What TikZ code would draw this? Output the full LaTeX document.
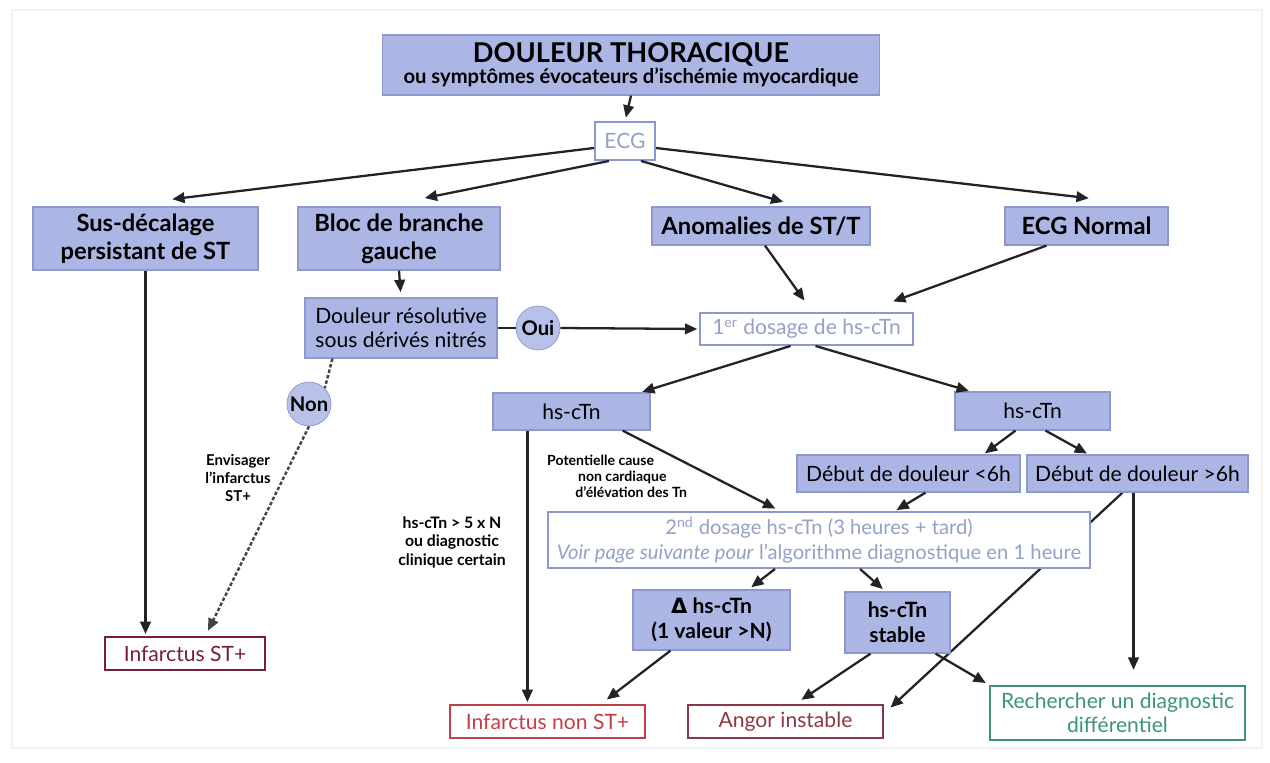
\documentclass[tikz,border=0pt]{standalone}
\usepackage{fontspec}
\setmainfont{Lato}
\newfontfamily\symfont{DejaVu Sans}
\usetikzlibrary{arrows.meta,backgrounds}

\definecolor{boxfill}{RGB}{172,182,228}
\definecolor{boxline}{RGB}{140,152,206}
\definecolor{greyblue}{RGB}{150,160,200}
\definecolor{wine}{RGB}{120,30,55}
\definecolor{redbox}{RGB}{196,62,72}
\definecolor{angorcol}{RGB}{140,55,70}
\definecolor{vert}{RGB}{60,150,115}
\definecolor{edge}{RGB}{35,35,35}

\begin{document}
\begin{tikzpicture}[x=0.02cm,y=-0.02cm,
  bluebox/.style={draw=boxline,fill=boxfill,line width=0.7pt,align=center,inner sep=1pt},
  whitebox/.style={draw=boxline,fill=white,line width=1.1pt,text=greyblue,align=center,inner sep=1pt},
  endbox/.style={fill=white,line width=1.4pt,align=center,inner sep=1pt,font=\fontsize{12}{14}\selectfont},
  answer/.style={circle,draw=boxline,fill=boxfill!85!white,minimum size=0.88cm,inner sep=0pt,font=\fontsize{11.5}{13}\selectfont\bfseries},
  head/.style={font=\fontsize{13.5}{16}\selectfont\bfseries},
  plain/.style={font=\fontsize{12}{14}\selectfont},
  remark/.style={align=center,font=\fontsize{8.5}{10}\selectfont\bfseries},
  arr/.style={-{Triangle[length=7pt,width=6pt]},line width=1.3pt,draw=edge,shorten >=1pt},
  dots/.style={line width=1.4pt,draw=edge!85,dash pattern=on 2pt off 1.2pt}]
\useasboundingbox (0,0) rectangle (1270,763);
\draw[black!5,line width=1pt] (12,10) rectangle (1262,748);

\node[bluebox,font=\bfseries,minimum width=9.94cm,minimum height=1.2cm] (top) at (631,65)
  {{\fontsize{15.5}{17}\selectfont DOULEUR THORACIQUE}\\{\fontsize{11.5}{13}\selectfont ou symptômes évocateurs d’ischémie myocardique}};
\node[whitebox,font=\fontsize{12}{14}\selectfont,minimum width=1.2cm,minimum height=0.76cm] (ecg) at (625,141) {ECG};

\node[bluebox,head,minimum width=4.5cm,minimum height=1.26cm] (sus) at (145.5,238.5) {Sus-décalage\\persistant de ST};
\node[bluebox,head,minimum width=4.04cm,minimum height=1.26cm] (bloc) at (399,238.5) {Bloc de branche\\gauche};
\node[bluebox,head,minimum width=4.36cm,minimum height=0.76cm] (anom) at (761,226) {Anomalies de ST/T};
\node[bluebox,head,minimum width=3.26cm,minimum height=0.76cm] (norm) at (1086.5,226) {ECG Normal};

\node[bluebox,plain,minimum width=3.84cm,minimum height=1.2cm] (doul) at (401,328) {Douleur résolutive\\sous dérivés nitrés};
\node[answer] (oui) at (538,328) {Oui};
\node[whitebox,plain,minimum width=4.26cm,minimum height=0.64cm] (dos1) at (806.5,329) {1\textsuperscript{er} dosage de hs-cTn};
\node[answer] (non) at (309,404) {Non};

\node[bluebox,plain,minimum width=3.14cm,minimum height=0.74cm] (hsl) at (571.5,411.5) {hs-cTn};
\node[bluebox,plain,minimum width=3.1cm,minimum height=0.76cm] (hsr) at (1032.5,411) {hs-cTn};
\node[bluebox,plain,minimum width=4.46cm,minimum height=0.74cm] (early) at (908.5,473.5) {Début de douleur <6h};
\node[bluebox,plain,minimum width=4.42cm,minimum height=0.74cm] (late) at (1137.5,473.5) {Début de douleur >6h};
\node[whitebox,font=\fontsize{11.5}{14}\selectfont,minimum width=10.84cm,minimum height=1.12cm] (dos2) at (819,540)
  {2\textsuperscript{nd} dosage hs-cTn (3 heures + tard)\\\textit{Voir page suivante pour} l’algorithme diagnostique en 1 heure};
\node[bluebox,font=\fontsize{12}{14.5}\selectfont\bfseries,minimum width=3.14cm,minimum height=1.2cm] (delta) at (711.5,620) {{\symfont Δ} hs-cTn\\(1 valeur >N)};
\node[bluebox,font=\fontsize{12}{14.5}\selectfont\bfseries,minimum width=2.1cm,minimum height=1.22cm] (stab) at (897.5,622.5) {hs-cTn\\stable};

\node[endbox,draw=wine,text=wine,minimum width=3.2cm,minimum height=0.66cm] (stp) at (185,653.5) {Infarctus ST+};
\node[endbox,draw=redbox,text=redbox,minimum width=3.9cm,minimum height=0.66cm] (nstp) at (547.5,721.5) {Infarctus non ST+};
\node[endbox,draw=angorcol,text=angorcol,minimum width=3.9cm,minimum height=0.66cm] (angor) at (785.5,721.5) {Angor instable};
\node[endbox,draw=vert,text=vert,minimum width=5.1cm,minimum height=1.08cm] (diff) at (1117.5,713) {Rechercher un diagnostic\\différentiel};

\node[remark] (envis) at (238,478) {Envisager\\l’infarctus\\ST+};
\node[remark,font=\fontsize{9}{10.5}\selectfont\bfseries] (crit) at (452,542) {hs-cTn > 5 x N\\ou diagnostic\\clinique certain};
\node[remark,font=\fontsize{8}{9}\selectfont\bfseries,align=left,anchor=north west] (cause) at (541,449) {Potentielle cause\\\hspace*{2.2em}non cardiaque\\\hspace*{2em}d’élévation des Tn};

\draw[arr,shorten >=2pt] (top.south) -- (ecg.north);
\draw[arr] ([yshift=-0.14cm]ecg.west) -- ([xshift=0.5cm,yshift=0.14cm]sus.north);
\draw[arr] ([xshift=0.3cm]ecg.south west) -- ([xshift=0.48cm,yshift=0.16cm]bloc.north);
\draw[arr] ([xshift=-0.3cm]ecg.south east) -- ([xshift=0.48cm,yshift=0.08cm]anom.north);
\draw[arr] ([yshift=-0.14cm]ecg.east) -- ([xshift=0.08cm,yshift=0.16cm]norm.north);

\draw[arr,shorten >=3pt] (bloc.south) -- (doul.north);
\draw[line width=1.3pt,draw=edge] (doul.east) -- (oui.west);
\draw[arr] (oui.east) -- (dos1.west);
\draw[arr] ([xshift=0.08cm]anom.south) -- ([xshift=-0.02cm,yshift=0.2cm]dos1.north);
\draw[arr] ([xshift=-0.8cm]norm.south) -- ([xshift=1.7cm,yshift=0.2cm]dos1.north);

\draw[dots] ([xshift=0.56cm]doul.south west) -- (non.north east);
\draw[dots,-{Triangle[length=7pt,width=6pt]}] (non.south) -- ([xshift=0.46cm,yshift=0.1cm]stp.north);
\draw[arr] (sus.south) -- (sus.south |- stp.north);

\draw[arr] ([xshift=-0.32cm]dos1.south) -- ([xshift=1.38cm]hsl.north);
\draw[arr] ([xshift=0.18cm]dos1.south) -- ([xshift=-1.24cm]hsr.north);
\draw[arr] ([xshift=-0.34cm]hsr.south) -- ([xshift=1.5cm]early.north);
\draw[arr] ([xshift=0.26cm]hsr.south) -- ([xshift=-0.98cm]late.north);

\draw[arr] ([xshift=0.7cm]hsl.south west) -- ([xshift=0.7cm]hsl.south west |- nstp.north);
\draw[arr,shorten >=3pt] ([xshift=-0.56cm]hsl.south east) -- ([xshift=-0.78cm]dos2.north);
\draw[arr] ([xshift=0.34cm]early.south) -- ([xshift=1.52cm]dos2.north);
\begin{scope}[on background layer]
\draw[arr] ([xshift=-0.3cm]late.south) -- ([xshift=0.1cm,yshift=-0.1cm]angor.north east);
\end{scope}
\draw[arr,shorten >=0.3cm] ([xshift=-0.08cm]late.south) -- ([xshift=-0.08cm]late.south |- diff.north);

\draw[arr,shorten >=2pt] ([xshift=-0.88cm]dos2.south) -- ([xshift=0.74cm]delta.north);
\draw[arr,shorten >=2pt] ([xshift=0.82cm]dos2.south) -- ([xshift=-0.24cm]stab.north);
\draw[arr,shorten >=4pt] ([xshift=-0.82cm]delta.south) -- ([xshift=-0.9cm]nstp.north east);
\draw[arr,shorten >=4pt] ([xshift=-0.54cm]stab.south) -- ([xshift=0.2cm]angor.north);
\draw[arr,shorten >=2pt] ([xshift=0.76cm]stab.south) -- (diff.north west);
\end{tikzpicture}
\end{document}
